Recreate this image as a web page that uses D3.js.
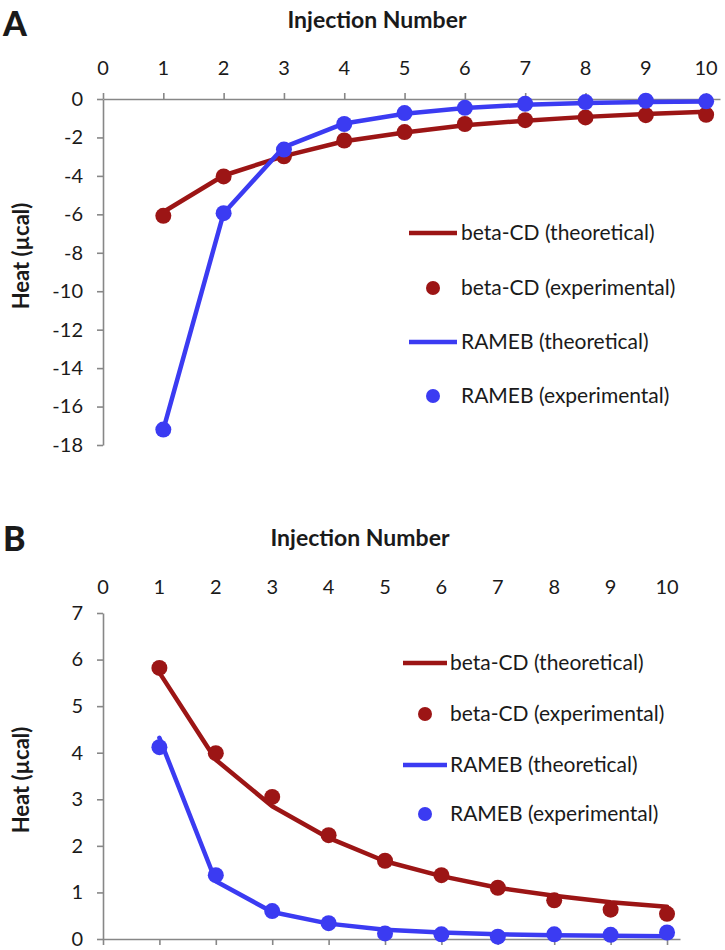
<!DOCTYPE html>
<html>
<head>
<meta charset="utf-8">
<script src="https://cdn.jsdelivr.net/npm/d3@7"></script>
<style>
  html, body { margin: 0; padding: 0; background: #ffffff; }
  svg { display: block; }
  text { font-family: Lato, "Open Sans", sans-serif; fill: #1a1a1a; }
</style>
</head>
<body>
<svg id="chart" width="725" height="950"></svg>
<script>
// ---------- data ----------
const injections = [1, 2, 3, 4, 5, 6, 7, 8, 9, 10];
const xTickValues = [0, 1, 2, 3, 4, 5, 6, 7, 8, 9, 10];
const yTicksA = [0, -2, -4, -6, -8, -10, -12, -14, -16, -18];
const yTicksB = [0, 1, 2, 3, 4, 5, 6, 7];

// Panel A
const betaTheoA  = [-5.88, -3.98, -2.97, -2.2, -1.74, -1.36, -1.13, -0.93, -0.78, -0.66];
const betaExpA   = [-6.08, -4.03, -2.98, -2.16, -1.72, -1.3, -1.1, -0.96, -0.84, -0.82];
const ramebTheoA = [-17.2, -5.94, -2.5, -1.27, -0.77, -0.47, -0.3, -0.21, -0.15, -0.13];
const ramebExpA  = [-17.2, -5.94, -2.63, -1.3, -0.73, -0.46, -0.25, -0.16, -0.09, -0.12];

// Panel B
const betaTheoB  = [5.72, 3.85, 2.85, 2.17, 1.67, 1.35, 1.1, 0.93, 0.79, 0.69];
const betaExpB   = [5.82, 3.99, 3.05, 2.23, 1.68, 1.37, 1.1, 0.83, 0.63, 0.54];
const ramebTheoB = [4.32, 1.24, 0.58, 0.33, 0.2, 0.14, 0.1, 0.08, 0.07, 0.06];
const ramebExpB  = [4.12, 1.37, 0.6, 0.34, 0.12, 0.1, 0.05, 0.1, 0.09, 0.14];

const legendLabels = ["beta-CD (theoretical)", "beta-CD (experimental)", "RAMEB (theoretical)", "RAMEB (experimental)"];
const xTitle = "Injection Number";
const yTitle = "Heat (\u00b5cal)";

// ---------- styles ----------
const RED = "#9c1515";
const BLUE = "#3b3bf2";
const AXIS = "#878787";

const svg = d3.select("#chart");

function panel(cfg) {
  const g = svg.append("g");
  const x = d3.scaleLinear().domain([0, 10.23]).range([cfg.x0, cfg.xEnd]);
  const y = d3.scaleLinear().domain(cfg.yDomain).range(cfg.yRange);

  // panel letter
  g.append("text").attr("x", 3).attr("y", cfg.letterY)
    .style("font-size", "34px").style("font-weight", 900).style("font-family", "Lato, sans-serif")
    .text(cfg.letter);

  // x title
  g.append("text").attr("x", cfg.titleX).attr("y", cfg.titleY)
    .attr("text-anchor", "middle")
    .style("font-size", "23px").style("font-weight", 700)
    .text(xTitle);

  // y title
  g.append("text")
    .attr("transform", `translate(29,${cfg.yTitleY}) rotate(-90)`)
    .attr("text-anchor", "middle")
    .style("font-size", "22px").style("font-weight", 700)
    .text(yTitle);

  // x tick labels (at top)
  g.selectAll(".xl").data(xTickValues).enter().append("text")
    .attr("x", d => x(d)).attr("y", cfg.xLabelY)
    .attr("text-anchor", "middle")
    .style("font-size", "20px")
    .text(d => String(d));

  // x axis line with ticks
  const xAxisGen = (cfg.xTicksUp ? d3.axisTop(x) : d3.axisBottom(x))
    .tickValues(xTickValues).tickSize(6).tickSizeOuter(0).tickFormat("");
  const xa = g.append("g").attr("transform", `translate(0,${y(cfg.xAxisAt)})`).call(xAxisGen);
  xa.selectAll("path, line").attr("stroke", AXIS).attr("stroke-width", 1.6);

  // y axis
  const yAxisGen = d3.axisLeft(y).tickValues(cfg.yTicks).tickSize(6).tickSizeOuter(0)
    .tickPadding(14).tickFormat(d => String(d));
  const ya = g.append("g").attr("transform", `translate(${x(0)},0)`).call(yAxisGen);
  ya.selectAll("path, line").attr("stroke", AXIS).attr("stroke-width", 1.6);
  ya.selectAll("text").style("font-size", "20px").style("font-family", "Lato, sans-serif").attr("fill", "#1a1a1a");

  const line = d3.line().x((d, i) => x(injections[i])).y(d => y(d));

  const series = [
    { vals: cfg.betaTheo, color: RED, type: "line" },
    { vals: cfg.betaExp, color: RED, type: "dot" },
    { vals: cfg.ramebTheo, color: BLUE, type: "line" },
    { vals: cfg.ramebExp, color: BLUE, type: "dot" }
  ];
  series.forEach(s => {
    if (s.type === "line") {
      g.append("path").datum(s.vals).attr("d", line)
        .attr("fill", "none").attr("stroke", s.color)
        .attr("stroke-width", 4.5).attr("stroke-linejoin", "round").attr("stroke-linecap", "round");
    } else {
      g.selectAll(null).data(s.vals).enter().append("circle")
        .attr("cx", (d, i) => x(injections[i])).attr("cy", d => y(d))
        .attr("r", 8).attr("fill", s.color);
    }
  });

  // legend
  const lg = g.append("g");
  series.forEach((s, i) => {
    const cy = cfg.legendY[i];
    if (s.type === "line") {
      lg.append("line").attr("x1", cfg.legLine[0]).attr("x2", cfg.legLine[1])
        .attr("y1", cy).attr("y2", cy).attr("stroke", s.color).attr("stroke-width", 4.5);
    } else {
      lg.append("circle").attr("cx", (cfg.legLine[0] + cfg.legLine[1]) / 2).attr("cy", cy)
        .attr("r", 7).attr("fill", s.color);
    }
    lg.append("text").attr("x", cfg.legText).attr("y", cy + 7)
      .style("font-size", "21px").text(legendLabels[i]);
  });
}

panel({
  letter: "A", letterY: 36,
  titleX: 377, titleY: 28,
  yTitleY: 256,
  x0: 103, xEnd: 720,
  yDomain: [-18, 0], yRange: [445, 99], yTicks: yTicksA,
  xAxisAt: 0, xTicksUp: true, xLabelY: 75,
  betaTheo: betaTheoA, betaExp: betaExpA, ramebTheo: ramebTheoA, ramebExp: ramebExpA,
  legendY: [233, 288, 342, 396], legLine: [409, 457], legText: 461
});

panel({
  letter: "B", letterY: 551,
  titleX: 360, titleY: 546,
  yTitleY: 780,
  x0: 103, xEnd: 680,
  yDomain: [0, 7], yRange: [939, 613], yTicks: yTicksB,
  xAxisAt: 0, xTicksUp: false, xLabelY: 594,
  betaTheo: betaTheoB, betaExp: betaExpB, ramebTheo: ramebTheoB, ramebExp: ramebExpB,
  legendY: [663, 714, 765, 814], legLine: [403, 447], legText: 450
});
</script>
</body>
</html>
